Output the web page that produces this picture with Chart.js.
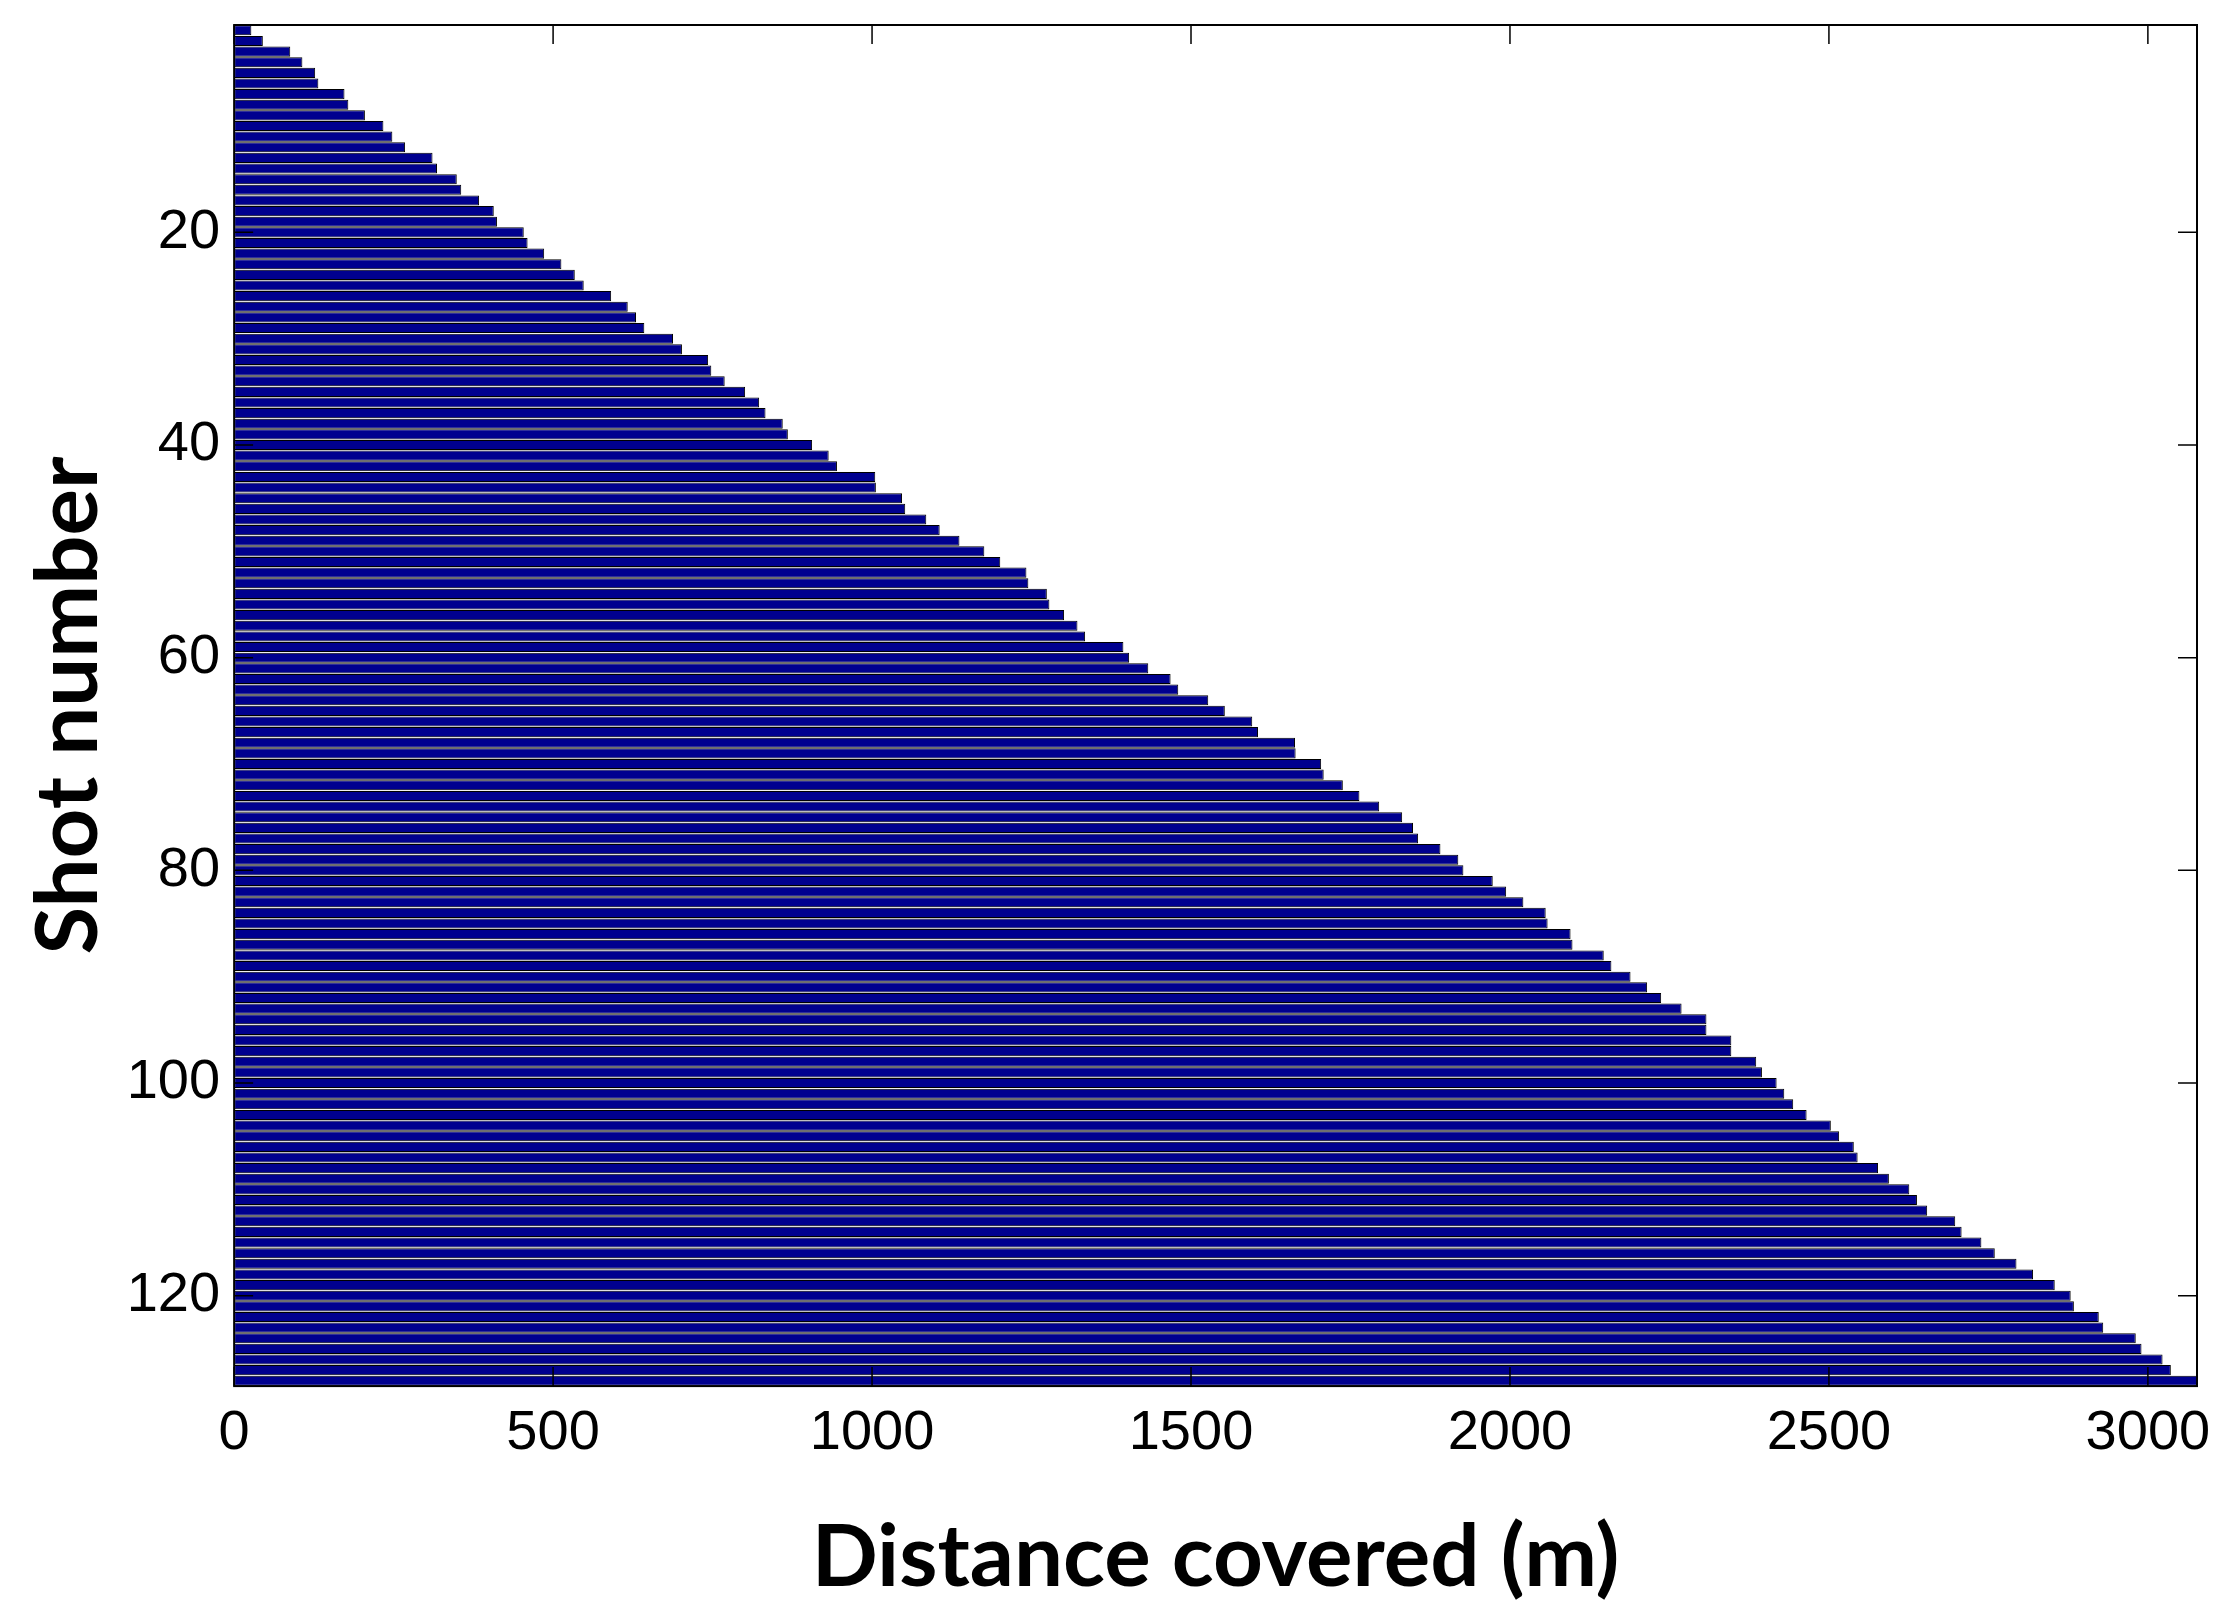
<!DOCTYPE html>
<html>
<head>
<meta charset="utf-8">
<title>Distance covered per shot</title>
<script src="https://cdn.jsdelivr.net/npm/chart.js@4.4.1/dist/chart.umd.min.js"></script>
<style>
    body { margin: 0; background: #fff; }
    #wrap { width: 2223px; height: 1606px; }
</style>
</head>
<body>
<div id="wrap"><canvas id="shotChart" width="2223" height="1606"></canvas></div>
<script>
// distance covered (m) for each shot
const distances = [
    27, 45, 88, 107, 127, 132, 173, 179, 205, 234,
    248, 268, 311, 318, 349, 356, 384, 407, 412, 454,
    460, 486, 513, 534, 548, 591, 617, 630, 643, 688,
    702, 743, 748, 769, 801, 823, 833, 860, 868, 906,
    932, 945, 1005, 1006, 1047, 1052, 1085, 1106, 1137, 1176,
    1201, 1242, 1245, 1274, 1278, 1301, 1322, 1334, 1394, 1403,
    1433, 1468, 1480, 1527, 1553, 1596, 1605, 1663, 1664, 1704,
    1708, 1738, 1764, 1795, 1831, 1848, 1856, 1891, 1919, 1927,
    1973, 1994, 2021, 2056, 2059, 2095, 2098, 2147, 2159, 2189,
    2215, 2237, 2269, 2308, 2308, 2347, 2347, 2386, 2395, 2418,
    2430, 2444, 2465, 2503, 2516, 2539, 2545, 2577, 2594, 2626,
    2638, 2654, 2698, 2708, 2739, 2760, 2794, 2820, 2854, 2879,
    2884, 2923, 2930, 2981, 2990, 3023, 3036, 3077
];

const shots = distances.map((d, i) => i + 1);

const yTicks = [20, 40, 60, 80, 100, 120];
const xTicks = [0, 500, 1000, 1500, 2000, 2500, 3000];

const tickFont = { family: "'Liberation Sans', Arial, sans-serif", size: 56 };
const titleFont = { family: "Lato, sans-serif", size: 87, weight: 'bold', lineHeight: 1.1 };

/**
 * @desc Draws the axis box and the inward tick marks (matlab style)
 */
const axisBox = {
    id: 'axisBox',
    afterDatasetsDraw(chart) {
        const { ctx, chartArea, scales } = chart;
        const { left, right, top, bottom } = chartArea;
        const len = 19;

        ctx.save();
        ctx.strokeStyle = '#000';
        ctx.lineWidth = 1.5;
        ctx.beginPath();

        scales.x.ticks.forEach(t => {
            const px = scales.x.getPixelForValue(t.value);
            ctx.moveTo(px, bottom);
            ctx.lineTo(px, bottom - len);
            ctx.moveTo(px, top);
            ctx.lineTo(px, top + len);
        });

        scales.y.ticks.forEach(t => {
            if (!yTicks.includes(shots[t.value])) return;
            const py = scales.y.getPixelForValue(t.value);
            ctx.moveTo(left, py);
            ctx.lineTo(left + len, py);
            ctx.moveTo(right, py);
            ctx.lineTo(right - len, py);
        });
        ctx.stroke();

        ctx.lineWidth = 2;
        ctx.strokeRect(left, top, right - left, bottom - top);
        ctx.restore();
    }
};

new Chart(document.getElementById('shotChart'), {
    type: 'bar',
    data: {
        labels: shots,
        datasets: [
            {
                label: 'Distance covered (m)',
                data: distances,
                backgroundColor: '#00008f',
                borderColor: '#000',
                borderWidth: 1,
                borderSkipped: false,
                barPercentage: 0.95,
                categoryPercentage: 1
            }
        ]
    },
    options: {
        indexAxis: 'y',
        responsive: false,
        animation: false,
        layout: {
            padding: { top: 25, right: 26, bottom: 0, left: 0 }
        },
        plugins: {
            legend: { display: false },
            tooltip: { enabled: false }
        },
        scales: {
            x: {
                type: 'linear',
                min: 0,
                max: Math.max(...distances),
                afterBuildTicks: scale => {
                    scale.ticks = xTicks.map(v => ({ value: v }));
                },
                ticks: {
                    font: tickFont,
                    color: '#000',
                    padding: 4,
                    maxRotation: 0,
                    callback: value => String(value)
                },
                grid: { display: false, drawTicks: true, tickLength: 10 },
                border: { display: false },
                title: {
                    display: true,
                    text: 'Distance covered (m)',
                    font: titleFont,
                    color: '#000',
                    padding: { top: 39, bottom: 0 }
                }
            },
            y: {
                type: 'category',
                // the hidden labels still reserve room at the ends, drop it
                afterFit: scale => {
                    scale.paddingTop = 0;
                    scale.paddingBottom = 0;
                },
                ticks: {
                    font: tickFont,
                    color: '#000',
                    padding: 4,
                    autoSkip: false,
                    callback: (value, index) => yTicks.includes(shots[index]) ? shots[index] : null
                },
                grid: { display: false, drawTicks: true, tickLength: 10 },
                border: { display: false },
                title: {
                    display: true,
                    text: 'Shot number',
                    font: titleFont,
                    color: '#000',
                    padding: { top: 21, bottom: 6 }
                }
            }
        }
    },
    plugins: [axisBox]
});
</script>
</body>
</html>
